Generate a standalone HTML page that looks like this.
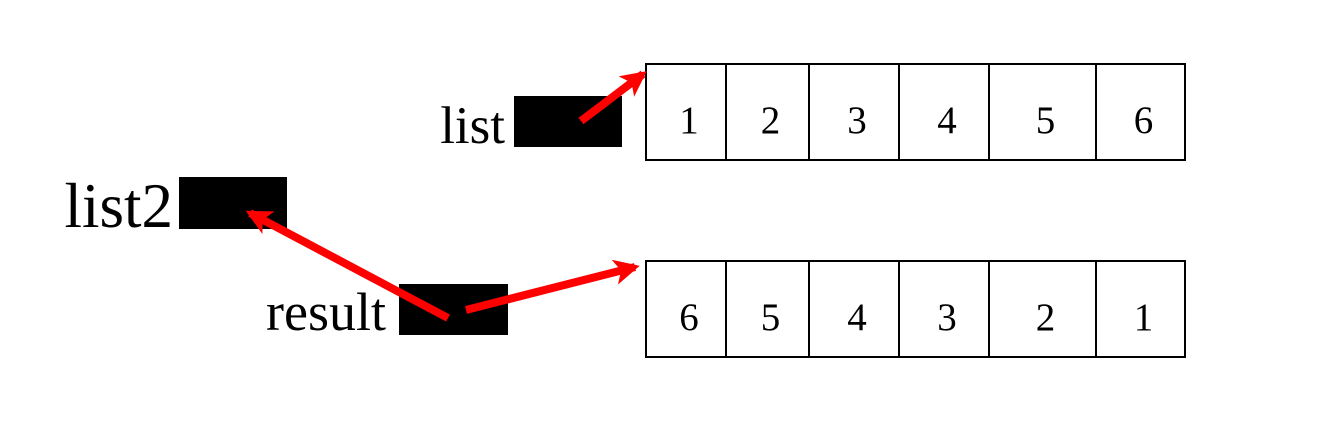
<!DOCTYPE html>
<html><head><meta charset="utf-8"><style>
html,body{margin:0;padding:0;background:#fff;}
svg{display:block;}
text{font-family:"Liberation Serif",serif;fill:#000;}
</style></head><body>
<svg id="chart" width="1324" height="425" viewBox="0 0 1324 425">
<defs>
<marker id="ah" markerWidth="3.2" markerHeight="3.2" refX="2.6" refY="1.6" orient="auto" markerUnits="strokeWidth">
<path d="M0,0 L3.2,1.6 L0,3.2 L0.8,1.6 Z" fill="#f00"/>
</marker>
</defs>
<g id="rows"></g>
<text x="505" y="143" font-size="53" text-anchor="end">list</text>
<rect x="514" y="96" width="108" height="51" fill="#000"/>
<text x="173" y="227" font-size="63" text-anchor="end">list2</text>
<rect x="179" y="177" width="108" height="52" fill="#000"/>
<text x="386" y="330" font-size="54" text-anchor="end">result</text>
<rect x="399" y="284" width="109" height="51" fill="#000"/>
<line x1="581" y1="121" x2="643" y2="74" stroke="#f00" stroke-width="8" marker-end="url(#ah)"/>
<line x1="448" y1="318" x2="250" y2="213" stroke="#f00" stroke-width="8" marker-end="url(#ah)"/>
<line x1="466" y1="310" x2="635" y2="267" stroke="#f00" stroke-width="8" marker-end="url(#ah)"/>
</svg>
<script>
const topValues = [1, 2, 3, 4, 5, 6];
const bottomValues = [6, 5, 4, 3, 2, 1];
const cellEdges = [646, 726, 809, 899, 989, 1096, 1185];
const ns = "http://www.w3.org/2000/svg";
const g = document.getElementById("rows");
function drawRow(vals, y0, name) {
  vals.forEach((v, i) => {
    const x0 = cellEdges[i], x1 = cellEdges[i + 1];
    const r = document.createElementNS(ns, "rect");
    r.setAttribute("x", x0); r.setAttribute("y", y0);
    r.setAttribute("width", x1 - x0); r.setAttribute("height", 96);
    r.setAttribute("fill", "none"); r.setAttribute("stroke", "#000"); r.setAttribute("stroke-width", "2");
    
    
    g.appendChild(r);
    const t = document.createElementNS(ns, "text");
    t.setAttribute("x", (x0 + x1) / 2 + 3); t.setAttribute("y", y0 + 69);
    t.setAttribute("font-size", "39"); t.setAttribute("text-anchor", "middle");
    t.textContent = v;
    
    
    g.appendChild(t);
  });
}
drawRow(topValues, 64, "list-array");
drawRow(bottomValues, 261, "result-array");
</script>
</body></html>
